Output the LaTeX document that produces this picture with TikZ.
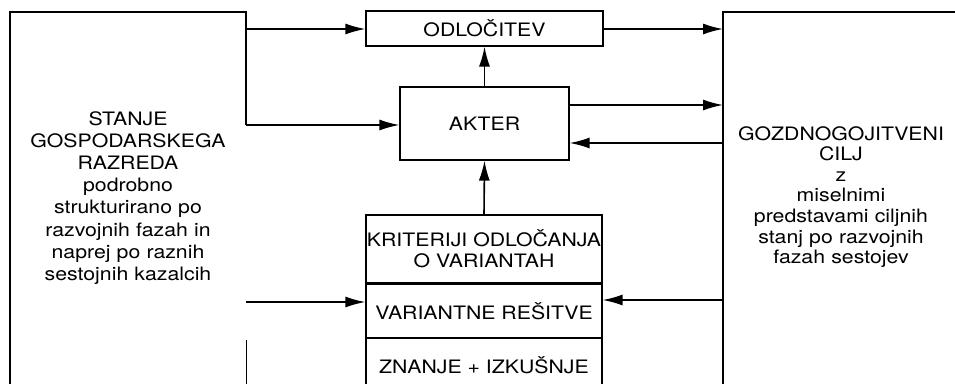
\documentclass[tikz,border=0pt]{standalone}
\usepackage{fontspec}
\newfontfamily\diafont[FakeStretch=1.15]{TeX Gyre Heros}
\usetikzlibrary{arrows.meta,calc}

\tikzset{
  box/.style={draw, line width=1.2pt, inner sep=0pt, font=\diafont\fontsize{18.5}{21}\selectfont, align=center},
  arr/.style={line width=1.6pt, -{Latex[length=20pt,width=11pt]}},
  frame/.style={line width=1.2pt},
  txt/.style={inner sep=0pt, align=center, text width=236pt}
}

\begin{document}
\begin{tikzpicture}[x=1pt,y=-1pt]
			\useasboundingbox (0,0) rectangle (955,383);
			\clip (0,0) rectangle (955,383);
			% outer boxes, cut by the page
			\draw[frame] (10,395) -- (10,12) -- (246,12) -- (246,125);
			\draw[line width=0.6pt] (246,340) -- (246,395);
			\draw[frame] (965,12) -- (723,12) -- (723,395);
			\node[txt, font=\diafont\fontsize{18.5}{22.2}\selectfont] (stanje) at (128,198)
				{STANJE\\GOSPODARSKEGA\\RAZREDA\\podrobno\\strukturirano po\\razvojnih fazah in\\naprej po raznih\\sestojnih kazalcih};
			\node[txt, font=\diafont\fontsize{18.5}{20.6}\selectfont] (cilj) at (841,197)
				{GOZDNOGOJITVENI\\CILJ\\z\\miselnimi\\predstavami ciljnih\\stanj po razvojnih\\fazah sestojev};
			% middle column
			\node[box, minimum width=237pt, minimum height=35pt] (odlocitev) at (484.5,28.5) {ODLOČITEV};
			\node[box, minimum width=169pt, minimum height=73pt] (akter) at (484.5,123.5) {AKTER};
			\node[box, minimum width=236pt, minimum height=68pt] (kriteriji) at (484,249) {KRITERIJI ODLOČANJA\\O VARIANTAH};
			\node[box, minimum width=236pt, minimum height=53pt, anchor=north] (variante) at (kriteriji.south) {VARIANTNE REŠITVE};
			\node[box, minimum width=236pt, minimum height=53pt, anchor=north] (znanje) at (variante.south) {ZNANJE + IZKUŠNJE};
			% ends on the outer boxes
			\coordinate (s1) at (246,29);
			\coordinate (s2) at (246,125);
			\coordinate (s3) at (246,302);
			\coordinate (c1) at (723,29);
			\coordinate (c2) at (723,105);
			\coordinate (c3) at (723,143);
			\coordinate (c4) at (723,300);
			% connectors
			\draw[arr] (s1) -- (s1 -| odlocitev.west);
			\draw[arr] (s2) -- (s2 -| akter.west);
			\draw[arr] (s3) -- (s3 -| variante.west);
			\draw[arr] (odlocitev.east |- c1) -- (c1);
			\draw[arr] (akter.east |- c2) -- (c2);
			\draw[arr] (c3) -- (c3 -| akter.east);
			\draw[arr] (c4) -- (c4 -| variante.east);
			\draw[arr] (akter.north) -- (odlocitev.south);
			\draw[arr] (kriteriji.north) -- (akter.south);
		\end{tikzpicture}
\end{document}
